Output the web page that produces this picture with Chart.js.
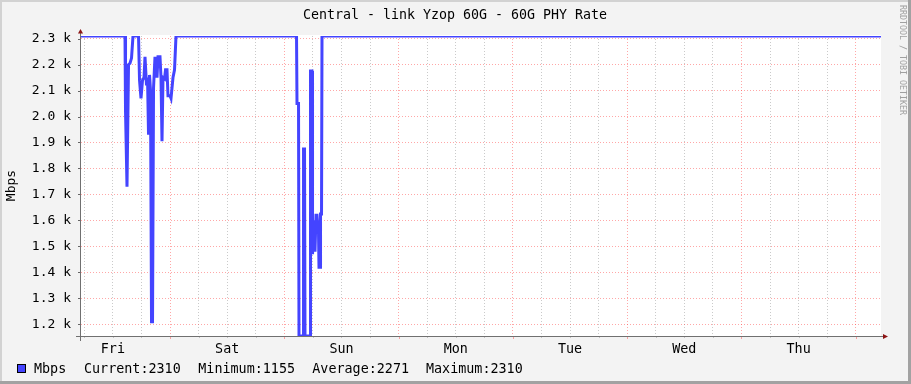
<!DOCTYPE html>
<html>
<head>
<meta charset="utf-8">
<script src="https://cdn.jsdelivr.net/npm/chart.js@4/dist/chart.umd.min.js"></script>
<style>
  html, body { margin: 0; padding: 0; background: #f3f3f3; }
  canvas { display: block; }
</style>
</head>
<body>
<canvas id="rrd" width="911" height="384" style="width:911px;height:384px"></canvas>
<script>
// ---------- data (hours since Fri 00:00, Mbps) ----------
const hours = [
  5.3, 14.54, 14.65, 14.96, 15.28, 15.59, 15.91, 16.22, 17.38, 17.59,
  17.9, 18.22, 18.53, 18.74, 19.06, 19.27, 19.48, 19.69, 19.9, 20.11,
  20.32, 20.53, 20.84, 21.26, 21.47, 21.89, 22.1, 22.31, 22.52, 22.84,
  23.05, 23.36, 23.57, 23.99, 24.2, 24.62, 24.94, 25.25,
  50.56, 50.66, 50.98, 51.08, 51.92, 52.03, 52.24, 52.34, 53.39, 53.5,
  53.81, 53.92, 54.23, 54.44, 54.65, 54.86, 55.18, 55.28, 55.49, 55.6,
  55.81, 55.91, 173.3
];
const mbps = [
  2310, 2310, 2020, 1730, 2200, 2205, 2225, 2310, 2310, 2140,
  2070, 2140, 2150, 2230, 2120, 2150, 1930, 2160, 2100, 1210,
  1210, 2110, 2230, 2150, 2230, 2230, 2150, 1905, 2150, 2145,
  2180, 2180, 2080, 2080, 2070, 2150, 2180, 2310,
  2310, 2050, 2050, 1155, 1155, 1875, 1875, 1155, 1155, 2175,
  2175, 1470, 1600, 1480, 1620, 1620, 1550, 1420, 1420, 1625,
  1625, 2310, 2310
];

const dayLabels = ["Fri", "Sat", "Sun", "Mon", "Tue", "Wed", "Thu"];
const yTicks = [1200, 1300, 1400, 1500, 1600, 1700, 1800, 1900, 2000, 2100, 2200, 2300];
const xStart = 5.3, xEnd = 173.3;
const yMin = 1155, yMax = 2310;

const statNames = ["Current", "Minimum", "Average", "Maximum"];
const statValues = [2310, 1155, 2271, 2310];
const seriesName = "Mbps";
const titleText = "Central - link Yzop 60G - 60G PHY Rate";

const FONT = "'DejaVu Sans Mono', monospace";
const LINE_COLOR = "#4444ff";
const MAJOR_GRID = "rgba(255, 60, 60, 0.45)";
const MINOR_GRID = "rgba(150, 150, 150, 0.5)";

// grid every 6 hours, red at midnight
const gridHours = [];
for (let h = 6; h <= 168; h += 6) gridHours.push(h);

const points = hours.map((h, i) => ({ x: h, y: mbps[i] }));

// ---------- decorations: frame, title, axes, arrows, legend ----------
const rrdDecor = {
  id: "rrdDecor",
  beforeDraw(chart) {
    const { ctx, chartArea: a } = chart;
    ctx.save();
    ctx.fillStyle = "#f3f3f3";
    ctx.fillRect(0, 0, 911, 384);
    ctx.fillStyle = "#d2d2d2";
    ctx.fillRect(0, 0, 911, 2);
    ctx.fillRect(0, 0, 2, 384);
    ctx.fillStyle = "#a2a2a2";
    ctx.fillRect(908, 0, 3, 384);
    ctx.fillRect(0, 381, 911, 3);
    ctx.fillStyle = "#ffffff";
    ctx.fillRect(a.left, a.top - 1, a.right - a.left, a.bottom - a.top + 1);
    ctx.restore();
  },
  beforeDatasetsDraw(chart) {
    const { ctx, chartArea: a, scales } = chart;
    ctx.save();
    // x tick marks below the axis
    gridHours.forEach(h => {
      const px = Math.round(scales.x.getPixelForValue(h)) + 0.5;
      ctx.strokeStyle = h % 24 === 0 ? MAJOR_GRID : MINOR_GRID;
      ctx.beginPath();
      ctx.moveTo(px, a.bottom);
      ctx.lineTo(px, a.bottom + (h % 24 === 0 ? 3 : 2));
      ctx.stroke();
    });
    // y tick marks left of the axis
    ctx.strokeStyle = "#666";
    yTicks.forEach(v => {
      const py = Math.round(scales.y.getPixelForValue(v)) + 0.5;
      ctx.beginPath();
      ctx.moveTo(a.left - 3, py);
      ctx.lineTo(a.left, py);
      ctx.stroke();
    });
    // axes
    ctx.strokeStyle = "#707070";
    ctx.lineWidth = 1;
    ctx.beginPath();
    ctx.moveTo(a.left - 0.5, a.top - 3);
    ctx.lineTo(a.left - 0.5, a.bottom + 5);
    ctx.moveTo(a.left - 5, a.bottom + 0.5);
    ctx.lineTo(a.right + 3, a.bottom + 0.5);
    ctx.stroke();
    // arrows
    ctx.fillStyle = "#8c1414";
    ctx.beginPath();
    ctx.moveTo(a.left - 3, a.top - 2.5);
    ctx.lineTo(a.left + 2, a.top - 2.5);
    ctx.lineTo(a.left - 0.5, a.top - 7);
    ctx.closePath();
    ctx.fill();
    ctx.beginPath();
    ctx.moveTo(a.right + 2, a.bottom - 2);
    ctx.lineTo(a.right + 2, a.bottom + 3);
    ctx.lineTo(a.right + 7, a.bottom + 0.5);
    ctx.closePath();
    ctx.fill();
    ctx.restore();
  },
  afterDraw(chart) {
    const { ctx } = chart;

    // title
    ctx.save();
    ctx.fillStyle = "#000";
    ctx.font = "13.3px " + FONT;
    ctx.textAlign = "center";
    ctx.textBaseline = "alphabetic";
    ctx.fillText(titleText, 455, 19);
    ctx.restore();

    // y axis title
    ctx.save();
    ctx.fillStyle = "#000";
    ctx.font = "13px " + FONT;
    ctx.textAlign = "center";
    ctx.textBaseline = "alphabetic";
    ctx.translate(15, 185.5);
    ctx.rotate(-Math.PI / 2);
    ctx.fillText(seriesName, 0, 0);
    ctx.restore();

    // watermark
    ctx.save();
    ctx.fillStyle = "#a0a0a0";
    ctx.font = "8.3px " + FONT;
    ctx.textAlign = "left";
    ctx.textBaseline = "middle";
    ctx.translate(902.5, 5);
    ctx.rotate(Math.PI / 2);
    ctx.fillText("RRDTOOL / TOBI OETIKER", 0, 0);
    ctx.restore();

    // legend
    ctx.save();
    ctx.fillStyle = LINE_COLOR;
    ctx.fillRect(17, 364, 9, 9);
    ctx.strokeStyle = "#000";
    ctx.lineWidth = 1;
    ctx.strokeRect(17.5, 364.5, 8, 8);
    ctx.fillStyle = "#000";
    ctx.font = "13.4px " + FONT;
    ctx.textAlign = "left";
    ctx.textBaseline = "alphabetic";
    ctx.fillText(seriesName, 34, 373);
    const legendX = [84, 198.3, 312.3, 426];
    statNames.forEach((n, i) => ctx.fillText(n + ":" + statValues[i], legendX[i], 373));
    ctx.restore();
  }
};

new Chart(document.getElementById("rrd"), {
  type: "line",
  data: {
    datasets: [{
      label: seriesName,
      data: points,
      borderColor: LINE_COLOR,
      borderWidth: 3,
      pointRadius: 0,
      tension: 0,
      fill: false,
      borderJoinStyle: "miter"
    }]
  },
  options: {
    responsive: false,
    animation: false,
    devicePixelRatio: 1,
    layout: { padding: { left: 0, right: 30, top: 36, bottom: 0 } },
    plugins: {
      legend: { display: false },
      tooltip: { enabled: false },
      title: { display: false }
    },
    scales: {
      x: {
        type: "linear",
        min: xStart,
        max: xEnd,
        afterBuildTicks(scale) { scale.ticks = gridHours.map(v => ({ value: v })); },
        afterFit(scale) { scale.height = 48; },
        grid: {
          drawTicks: false,
          lineWidth: 1,
          color: c => (c.tick && c.tick.value % 24 === 0) ? MAJOR_GRID : MINOR_GRID
        },
        border: { display: false, dash: [1, 2] },
        ticks: {
          autoSkip: false,
          maxRotation: 0,
          minRotation: 0,
          padding: 5,
          color: "#000",
          font: { family: FONT, size: 13.4 },
          callback: v => (v % 24 === 12) ? dayLabels[Math.floor(v / 24)] : ""
        }
      },
      y: {
        type: "linear",
        min: yMin,
        max: yMax,
        afterBuildTicks(scale) { scale.ticks = yTicks.map(v => ({ value: v })); },
        afterFit(scale) { scale.width = 81; },
        grid: { drawTicks: false, lineWidth: 1, color: MAJOR_GRID },
        border: { display: false, dash: [1, 2] },
        ticks: {
          padding: 10,
          color: "#000",
          font: { family: FONT, size: 13 },
          callback: v => (v / 1000).toFixed(1) + " k"
        }
      }
    }
  },
  plugins: [rrdDecor]
});
</script>
</body>
</html>
